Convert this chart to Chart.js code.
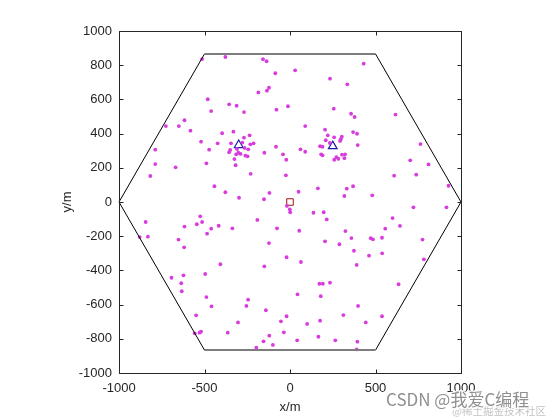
<!DOCTYPE html>
<html><head><meta charset="utf-8">
<script src="https://cdn.jsdelivr.net/npm/chart.js@4.4.0/dist/chart.umd.min.js"></script>
<style>html,body{margin:0;padding:0;background:#fff;}canvas{display:block;}</style>
</head><body>
<canvas id="c" width="560" height="420"></canvas>
<script>
// user points (magenta dots)
const dotX = [-514,-378,-158,-137,-86,-123,-135,-185,-481,-356,-312,-461,-269,-79,-12,-617,-726,-650,-582,-397,-331,-236,-269,-520,-423,
  -788,-473,-82,-150,-41,-22,-788,-669,-489,-318,-230,-24,-817,-442,-378,-298,-152,-120,
  -345,-279,-232,-213,-350,-356,-310,-265,-244,-302,-289,-315,-261,-248,-325,
  431,30,234,335,256,357,378,617,89,205,369,392,221,396,763,61,89,703,810,609,738,927,50,163,332,369,318,481,
  258,303,297,293,209,233,176,190,182,190,304,322,271,283,259,318,
  -844,-525,-514,-545,-617,-461,-485,-417,-337,-191,-76,-879,-831,-652,-619,-123,-20,-407,-150,-693,-623,-496,-636,-633,-489,-459,-245,-255,-141,-549,-20,-53,-304,-557,-529,-520,-364,-36,-121,-155,-100,-197,
  -18,-1,1,137,197,215,722,915,600,643,557,54,324,359,472,485,538,205,289,775,374,539,462,64,390,783,172,192,234,635,44,180,398,312,538,176,100,443,42,166,265,394,390];
const dotY = [836,848,835,823,753,668,651,641,601,571,563,532,526,540,560,478,444,444,417,402,411,390,376,353,343,
  306,306,323,288,279,247,222,203,226,215,165,156,152,92,57,25,16,53,
  343,347,337,343,304,291,310,316,308,288,281,279,271,267,251,
  809,770,721,688,546,516,497,511,444,423,409,399,390,333,339,308,294,244,220,154,160,95,60,80,78,92,35,39,
  378,382,367,357,361,345,326,323,279,273,277,279,263,253,247,256,
  -117,-84,-117,-130,-144,-156,-185,-139,-154,-105,-154,-205,-203,-220,-265,-240,-323,-364,-376,-443,-429,-421,-475,-522,-556,-610,-571,-608,-633,-663,-668,-698,-704,-768,-764,-758,-764,-762,-782,-815,-836,-852,
  -23,-43,-60,-63,-60,-102,-31,-31,-94,-140,-156,-168,-170,-211,-212,-218,-209,-230,-247,-220,-285,-300,-314,-351,-368,-335,-478,-478,-472,-481,-540,-551,-608,-661,-668,-694,-713,-704,-809,-788,-809,-817,-862];
// hexagonal cell boundary
const hexX = [-1000,-500,500,1000,500,-500,-1000];
const hexY = [0,866,866,0,-866,-866,0];
// triangles (cluster centres) and square (cell centre)
const triX = [-300,250];
const triY = [333,327];
const sqX = [0];
const sqY = [0];
const xTicks = [-1000,-500,0,500,1000];
const yTicks = [-1000,-800,-600,-400,-200,0,200,400,600,800,1000];

const zip = (xs, ys) => xs.map((v,i)=>({x:v,y:ys[i]}));
const FONT = '"Liberation Sans", Arial, Helvetica, sans-serif';
const AX = '#262626';

const frame = {
  id:'frame',
  afterDraw(chart){
    const {ctx, chartArea:a, scales:{x,y}} = chart;
    ctx.save();
    ctx.strokeStyle = AX; ctx.lineWidth = 1;
    const L = Math.round(a.left)+0.5, R = Math.round(a.right)+0.5, T = Math.round(a.top)+0.5, B = Math.round(a.bottom)+0.5;
    ctx.beginPath();
    ctx.moveTo(L,T); ctx.lineTo(R,T); ctx.lineTo(R,B); ctx.lineTo(L,B); ctx.closePath();
    xTicks.forEach(v=>{const p=Math.round(x.getPixelForValue(v))+0.5; ctx.moveTo(p,B); ctx.lineTo(p,B-4); ctx.moveTo(p,T); ctx.lineTo(p,T+4);});
    yTicks.forEach(v=>{const p=Math.round(y.getPixelForValue(v))+0.5; ctx.moveTo(L,p); ctx.lineTo(L+4,p); ctx.moveTo(R,p); ctx.lineTo(R-4,p);});
    ctx.stroke();
    ctx.fillStyle = AX; ctx.font = '13px '+FONT; ctx.textAlign='center'; ctx.textBaseline='middle';
    ctx.fillText('x/m', (a.left+a.right)/2, 407);
    ctx.save(); ctx.translate(67,(a.top+a.bottom)/2); ctx.rotate(-Math.PI/2); ctx.fillText('y/m',0,0); ctx.restore();
    // watermark
    ctx.textAlign='left';
    ctx.font = '10.5px "Noto Sans CJK SC", sans-serif';
    ctx.fillStyle = 'rgba(180,180,180,0.8)';
    ctx.fillText('@稀土掘金技术社区', 452, 411);
    ctx.font = '17px "Noto Sans CJK SC", "Liberation Sans", sans-serif';
    ctx.lineWidth = 3; ctx.strokeStyle='rgba(255,255,255,0.8)';
    ctx.strokeText('CSDN @我爱C编程', 386, 400);
    ctx.fillStyle = '#8f8f8f';
    ctx.fillText('CSDN @我爱C编程', 386, 400);
    ctx.restore();
  }
};

new Chart(document.getElementById('c'), {
  type:'scatter',
  data:{datasets:[
    {data:zip(hexX,hexY), showLine:true, pointRadius:0, borderColor:'#000', borderWidth:1, fill:false,
     segment:{borderColor:c=>c.p0.parsed.y===c.p1.parsed.y?'#7d7d7d':'#000', borderWidth:c=>c.p0.parsed.y===c.p1.parsed.y?2:1}, clip:false},
    {data:zip(dotX,dotY), pointRadius:1.9, pointBackgroundColor:'#d83cdc', pointBorderWidth:0, pointBorderColor:'#d83cdc'},
    {data:zip(triX,triY), pointStyle:'triangle', pointRadius:5, pointBackgroundColor:'rgba(0,0,0,0)', pointBorderColor:'#1a1aa8', pointBorderWidth:1.2},
    {data:zip(sqX,sqY), pointStyle:'rect', pointRadius:4.6, pointBackgroundColor:'rgba(0,0,0,0)', pointBorderColor:'#a01010', pointBorderWidth:1}
  ]},
  options:{
    responsive:false, animation:false, events:[],
    layout:{padding:{left:0,right:99,top:31,bottom:0}},
    plugins:{legend:{display:false}, tooltip:{enabled:false}},
    scales:{
      x:{type:'linear', min:-1000, max:1000,
         afterBuildTicks:s=>{s.ticks=xTicks.map(v=>({value:v}));},
         afterFit:s=>{s.height=47;},
         grid:{display:false, drawTicks:false}, border:{display:false},
         ticks:{padding:8, color:AX, font:{family:FONT, size:13}, maxRotation:0, autoSkip:false, callback:v=>String(v)}},
      y:{type:'linear', min:-1000, max:1000,
         afterBuildTicks:s=>{s.ticks=yTicks.map(v=>({value:v}));},
         afterFit:s=>{s.width=119;},
         grid:{display:false, drawTicks:false}, border:{display:false},
         ticks:{padding:7, color:AX, font:{family:FONT, size:13}, autoSkip:false, callback:v=>String(v)}}
    }
  },
  plugins:[frame]
});
</script>
</body></html>
